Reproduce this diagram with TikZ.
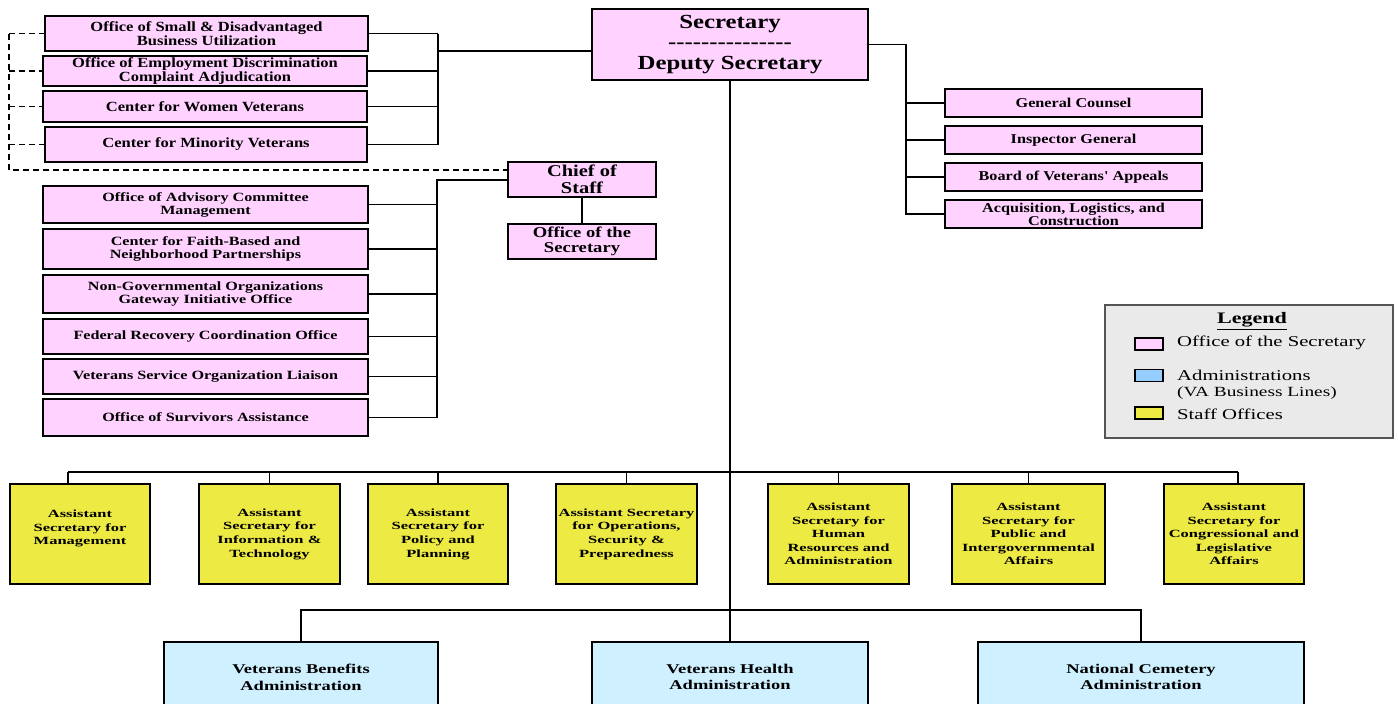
\documentclass[tikz,border=0pt]{standalone}
\usepackage{fontspec}
\setmainfont{Liberation Serif}
\newfontfamily\fTop[FakeStretch=1.18]{Liberation Serif}
\newfontfamily\fMid[FakeStretch=1.28]{Liberation Serif}
\newfontfamily\fRig[FakeStretch=1.2]{Liberation Serif}
\newfontfamily\fSec[FakeStretch=1.24]{Liberation Serif}
\newfontfamily\fYel[FakeStretch=1.5]{Liberation Serif}
\newfontfamily\fAdm[FakeStretch=1.38]{Liberation Serif}
\newfontfamily\fLeg[FakeStretch=1.38]{Liberation Serif}
\definecolor{pinkc}{RGB}{255,210,255}
\definecolor{yellowc}{RGB}{238,234,68}
\definecolor{bluec}{RGB}{206,240,255}
\definecolor{legblue}{RGB}{150,205,255}
\definecolor{legbg}{RGB}{234,234,234}
\definecolor{leggray}{RGB}{85,85,85}
\begin{document}
\begin{tikzpicture}[x=1pt,y=-1pt,
  bx/.style={draw=black, line width=1.8pt, inner sep=0pt, align=center},
  pbox/.style={bx, fill=pinkc, font=\fTop\bfseries\fontsize{14}{14}\selectfont},
  mbox/.style={bx, fill=pinkc, font=\fMid\bfseries\fontsize{12.6}{13}\selectfont},
  rbox/.style={bx, fill=pinkc, font=\fRig\bfseries\fontsize{13.5}{13}\selectfont},
  ybox/.style={bx, fill=yellowc, font=\fYel\bfseries\fontsize{11}{13.6}\selectfont},
  abox/.style={bx, fill=bluec, font=\fAdm\bfseries\fontsize{13.4}{16.7}\selectfont},
  conn/.style={line width=1.7pt},
  tconn/.style={line width=1.2pt},
  dconn/.style={line width=1.6pt, dash pattern=on 6pt off 4pt},
  swatch/.style={draw=black, line width=1.5pt, minimum width=28pt, minimum height=12pt, inner sep=0pt},
  legtext/.style={anchor=west, inner sep=0pt, align=left, font=\fLeg\fontsize{15}{16}\selectfont}
]
\useasboundingbox (0,0) rectangle (1398,704);
\clip (0,0) rectangle (1398,704);
\fill[white] (0,0) rectangle (1398,704);

% ---- top-left group
\node[pbox, minimum width=323pt, minimum height=35pt] (osdbu) at (206.5,33.5) {Office of Small \& Disadvantaged\\Business Utilization};
\node[pbox, minimum width=324pt, minimum height=30pt] (oedca) at (205,71) {Office of Employment Discrimination\\Complaint Adjudication};
\node[pbox, minimum width=324pt, minimum height=31pt] (cwv) at (205,106.5) {Center for Women Veterans};
\node[pbox, minimum width=322pt, minimum height=35pt] (cmv) at (206,144.5) {Center for Minority Veterans};

% ---- secretary
\node[bx, fill=pinkc, minimum width=276pt, minimum height=71pt, font=\fSec\bfseries\fontsize{20}{20.5}\selectfont] (sec) at (730,44.5)
  {Secretary\\-{}-{}-{}-{}-{}-{}-{}-{}-{}-{}-{}-{}-{}-{}-\\Deputy Secretary};

% ---- right group
\node[rbox, minimum width=257pt, minimum height=28pt] (gc) at (1073.5,103) {General Counsel};
\node[rbox, minimum width=257pt, minimum height=28pt] (ig) at (1073.5,140) {Inspector General};
\node[rbox, minimum width=257pt, minimum height=28pt] (bva) at (1073.5,177) {Board of Veterans' Appeals};
\node[rbox, minimum width=257pt, minimum height=28pt] (alc) at (1073.5,214) {Acquisition, Logistics, and\\Construction};

% ---- chief of staff
\node[bx, fill=pinkc, minimum width=148pt, minimum height=35pt, font=\fSec\bfseries\fontsize{16.5}{17.5}\selectfont] (cos) at (582,179.5) {Chief of\\Staff};
\node[bx, fill=pinkc, minimum width=148pt, minimum height=35pt, font=\fSec\bfseries\fontsize{15}{15}\selectfont] (os) at (582,241.5) {Office of the\\Secretary};

% ---- second left group
\node[mbox, minimum width=325pt, minimum height=37pt] (oacm) at (205.5,204.5) {Office of Advisory Committee\\Management};
\node[mbox, minimum width=325pt, minimum height=40pt] (cfb) at (205.5,249) {Center for Faith-Based and\\Neighborhood Partnerships};
\node[mbox, minimum width=325pt, minimum height=38pt] (ngo) at (205.5,294) {Non-Governmental Organizations\\Gateway Initiative Office};
\node[mbox, minimum width=325pt, minimum height=35pt] (frco) at (205.5,336.5) {Federal Recovery Coordination Office};
\node[mbox, minimum width=325pt, minimum height=35pt] (vsol) at (205.5,376.5) {Veterans Service Organization Liaison};
\node[mbox, minimum width=325pt, minimum height=37pt] (osa) at (205.5,417.5) {Office of Survivors Assistance};

% ---- legend
\node[draw=leggray, fill=legbg, line width=1.5pt, minimum width=288pt, minimum height=133pt, inner sep=0pt] (leg) at (1249,371.5) {};
\node[inner sep=0pt, font=\fLeg\bfseries\fontsize{16}{16}\selectfont] (legt) at (1252,321) {\underline{Legend}};
\node[swatch, fill=pinkc] (swp) at (1149,344) {};
\node[swatch, fill=legblue] (swb) at (1149,375.5) {};
\node[swatch, fill=yellowc] (swy) at (1149,413) {};
\node[legtext] (ltp) at (1177,343) {Office of the Secretary};
\node[legtext] (ltb) at (1177,385) {Administrations\\{\fontsize{14}{16}\selectfont(VA Business Lines)}};
\node[legtext] (lty) at (1177,414) {Staff Offices};

% ---- assistant secretaries
\node[ybox, minimum width=140pt, minimum height=100pt] (asm) at (80,534) {Assistant\\Secretary for\\Management\\\mbox{}};
\node[ybox, minimum width=141pt, minimum height=100pt] (asit) at (269.5,534) {Assistant\\Secretary for\\Information \&\\Technology};
\node[ybox, minimum width=140pt, minimum height=100pt] (aspp) at (438,534) {Assistant\\Secretary for\\Policy and\\Planning};
\node[ybox, minimum width=141pt, minimum height=100pt] (asosp) at (626.5,534) {Assistant Secretary\\for Operations,\\Security \&\\Preparedness};
\node[ybox, minimum width=141pt, minimum height=100pt] (ashra) at (838.5,534) {Assistant\\Secretary for\\Human\\Resources and\\Administration};
\node[ybox, minimum width=153pt, minimum height=100pt] (aspia) at (1028.5,534) {Assistant\\Secretary for\\Public and\\Intergovernmental\\Affairs};
\node[ybox, minimum width=140pt, minimum height=100pt] (ascla) at (1234,534) {Assistant\\Secretary for\\Congressional and\\Legislative\\Affairs};

% ---- administrations
\node[abox, minimum width=274pt, minimum height=70pt] (vba) at (301,677) {Veterans Benefits\\Administration};
\node[abox, minimum width=276pt, minimum height=70pt] (vha) at (730,677) {Veterans Health\\Administration};
\node[abox, minimum width=326pt, minimum height=70pt] (nca) at (1141,677) {National Cemetery\\Administration};

% ---- bus coordinates
\coordinate (lb) at (438,51);
\coordinate (rb) at (906,44.5);
\coordinate (mb) at (437,180);
\coordinate (db) at (9,170);
\coordinate (ab) at (0,472);
\coordinate (vb) at (0,610);

% ---- connectors: top-left group
\draw[conn] (osdbu.east) -- (osdbu.east -| lb);
\draw[conn] (oedca.east) -- (oedca.east -| lb);
\draw[conn] (cwv.east) -- (cwv.east -| lb);
\draw[conn] (cmv.east) -- (cmv.east -| lb);
\draw[conn] (osdbu.east -| lb) -- (cmv.east -| lb);
\draw[conn] (lb) -- (lb -| sec.west);

% dashed links
\draw[dconn] (osdbu.west -| db) -- (db) -- (db -| cos.west);
\draw[dconn] (osdbu.west -| db) -- (osdbu.west);
\draw[dconn] (oedca.west -| db) -- (oedca.west);
\draw[dconn] (cwv.west -| db) -- (cwv.west);
\draw[dconn] (cmv.west -| db) -- (cmv.west);

% right group
\draw[conn] (sec.east) -- (rb) -- (alc.west -| rb) -- (alc.west);
\draw[conn] (gc.west) -- (gc.west -| rb);
\draw[conn] (ig.west) -- (ig.west -| rb);
\draw[conn] (bva.west) -- (bva.west -| rb);

% chief of staff group
\draw[conn] (cos.south) -- (os.north);
\draw[conn] (cos.west |- mb) -- (mb) -- (osa.east -| mb) -- (osa.east);
\draw[conn] (oacm.east) -- (oacm.east -| mb);
\draw[conn] (cfb.east) -- (cfb.east -| mb);
\draw[conn] (ngo.east) -- (ngo.east -| mb);
\draw[conn] (frco.east) -- (frco.east -| mb);
\draw[tconn] (vsol.east) -- (vsol.east -| mb);

% main vertical
\draw[conn] (sec.south) -- (vha.north);

% assistant secretaries bus
\draw[tconn] ([xshift=-12pt]asm.north |- ab) -- ([xshift=4pt]ascla.north |- ab);
\draw[tconn] ([xshift=-12pt]asm.north |- ab) -- ([xshift=-12pt]asm.north);
\draw[tconn] (asit.north |- ab) -- (asit.north);
\draw[tconn] (aspp.north |- ab) -- (aspp.north);
\draw[tconn] (asosp.north |- ab) -- (asosp.north);
\draw[tconn] (ashra.north |- ab) -- (ashra.north);
\draw[tconn] (aspia.north |- ab) -- (aspia.north);
\draw[tconn] ([xshift=4pt]ascla.north |- ab) -- ([xshift=4pt]ascla.north);

% administrations bus
\draw[conn] (vba.north) -- (vba.north |- vb) -- (nca.north |- vb) -- (nca.north);
\end{tikzpicture}
\end{document}
